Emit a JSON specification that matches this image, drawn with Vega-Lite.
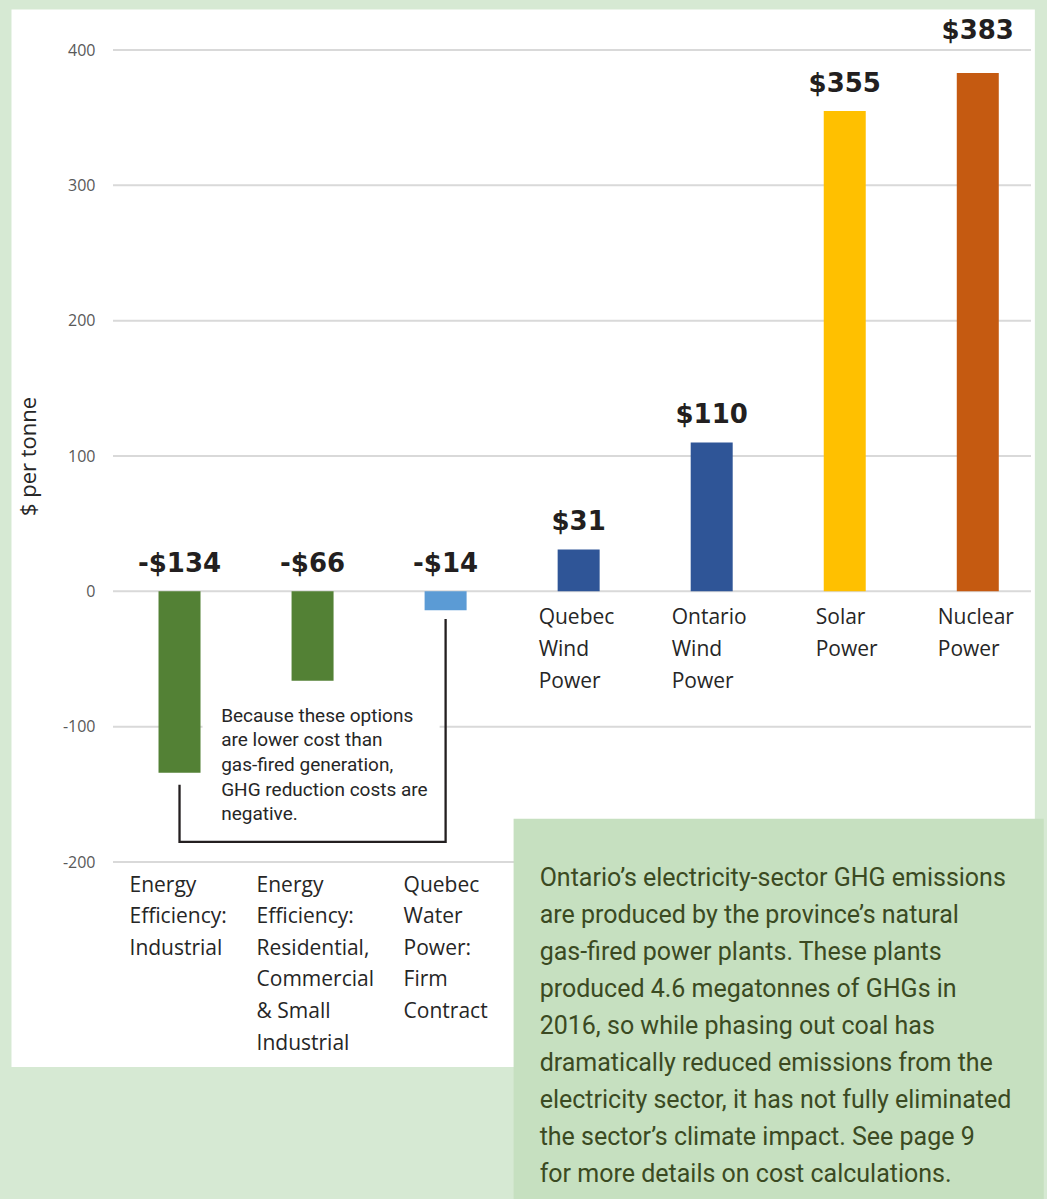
{
  "$schema": "https://vega.github.io/schema/vega-lite/v6.json",
  "autosize": {"type": "none"},
  "width": 918,
  "height": 812,
  "padding": {"left": 113, "top": 50, "right": 16, "bottom": 337},
  "background": "#d6e9d3",
  "config": {"view": {"stroke": null}, "scale": {"continuousPadding": 0}},
  "datasets": {
    "bars": [
      {"i": 0, "v": -134, "name": "Energy Efficiency: Industrial", "lab": "-$134"},
      {"i": 1, "v": -66, "name": "Energy Efficiency: Residential, Commercial & Small Industrial", "lab": "-$66"},
      {"i": 2, "v": -14, "name": "Quebec Water Power: Firm Contract", "lab": "-$14"},
      {"i": 3, "v": 31, "name": "Quebec Wind Power", "lab": "$31"},
      {"i": 4, "v": 110, "name": "Ontario Wind Power", "lab": "$110"},
      {"i": 5, "v": 355, "name": "Solar Power", "lab": "$355"},
      {"i": 6, "v": 383, "name": "Nuclear Power", "lab": "$383"}
    ],
    "cats": [
      {"i": 0, "v": -200, "t": "Energy\nEfficiency:\nIndustrial"},
      {"i": 1, "v": -200, "t": "Energy\nEfficiency:\nResidential,\nCommercial\n& Small\nIndustrial"},
      {"i": 2, "v": -200, "t": "Quebec\nWater\nPower:\nFirm\nContract"},
      {"i": 3, "v": 0, "t": "Quebec\nWind\nPower"},
      {"i": 4, "v": 0, "t": "Ontario\nWind\nPower"},
      {"i": 5, "v": 0, "t": "Solar\nPower"},
      {"i": 6, "v": 0, "t": "Nuclear\nPower"}
    ],
    "grid": [{"v": -200}, {"v": -100}, {"v": 0}, {"v": 100}, {"v": 200}, {"v": 300}, {"v": 400}],
    "panel": [{"i": -1.263, "i2": 6.429, "v": 430, "v2": -351.4}],
    "notebg": [{"i": 0.173, "i2": 1.955, "v": -80, "v2": -176}],
    "box": [{"i": 2.511, "i2": 6.496, "v": -168, "v2": -460}],
    "bracket": [
      {"i": 0, "v": -143, "o": 1},
      {"i": 0, "v": -185.2, "o": 2},
      {"i": 2, "v": -185.2, "o": 3},
      {"i": 2, "v": -20.5, "o": 4}
    ],
    "note": [{"i": 0.313, "v": -96.3, "t": "Because these options\nare lower cost than\ngas-fired generation,\nGHG reduction costs are\nnegative."}],
    "boxtext": [{"i": 2.707, "v": -217.5, "t": "Ontario’s electricity-sector GHG emissions\nare produced by the province’s natural\ngas-fired power plants. These plants\nproduced 4.6 megatonnes of GHGs in\n2016, so while phasing out coal has\ndramatically reduced emissions from the\nelectricity sector, it has not fully eliminated\nthe sector’s climate impact. See page 9\nfor more details on cost calculations."}]
  },
  "layer": [
    {"data": {"name": "panel"}, "mark": {"type": "rect", "fill": "white"},
      "encoding": {
        "x": {"field": "i", "type": "quantitative", "scale": {"domain": [-0.5, 6.4], "nice": false, "zero": false, "padding": 0}, "axis": null},
        "x2": {"field": "i2"},
        "y": {"field": "v", "type": "quantitative", "scale": {"domain": [-200, 400], "nice": false, "zero": false, "padding": 0},
          "axis": {"values": [-200, -100, 0, 100, 200, 300, 400], "grid": false, "domain": false, "ticks": false,
            "labelPadding": 18, "labelFont": "Open Sans", "labelFontSize": 16, "labelColor": "#595959",
            "labelExpr": "'' + datum.value",
            "title": "$ per tonne", "titleFont": "Open Sans", "titleFontSize": 22, "titleFontWeight": "normal",
            "titleColor": "#262626", "titlePadding": 22, "zindex": 1}},
        "y2": {"field": "v2"}}},
    {"data": {"name": "grid"}, "mark": {"type": "rule", "color": "#d9d9d9", "strokeWidth": 2},
      "encoding": {"y": {"field": "v", "type": "quantitative"}}},
    {"data": {"name": "notebg"}, "mark": {"type": "rect", "fill": "white"},
      "encoding": {"x": {"field": "i", "type": "quantitative"}, "x2": {"field": "i2"}, "y": {"field": "v", "type": "quantitative"}, "y2": {"field": "v2"}}},
    {"data": {"name": "bracket"}, "mark": {"type": "line", "color": "#231f20", "strokeWidth": 2.3, "strokeJoin": "miter", "strokeCap": "butt"},
      "encoding": {"x": {"field": "i", "type": "quantitative"}, "y": {"field": "v", "type": "quantitative"}, "order": {"field": "o", "type": "quantitative"}}},
    {"data": {"name": "bars"}, "mark": {"type": "bar", "size": 42},
      "encoding": {"x": {"field": "i", "type": "quantitative"}, "y": {"field": "v", "type": "quantitative"}, "y2": {"datum": 0},
        "color": {"field": "name", "type": "nominal", "legend": null,
          "scale": {"domain": ["Energy Efficiency: Industrial", "Energy Efficiency: Residential, Commercial & Small Industrial", "Quebec Water Power: Firm Contract", "Quebec Wind Power", "Ontario Wind Power", "Solar Power", "Nuclear Power"],
            "range": ["#538135", "#538135", "#5b9bd5", "#2f5597", "#2f5597", "#ffc000", "#c55a11"]}}}},
    {"data": {"name": "bars"}, "transform": [{"filter": "datum.v > 0 && datum.v < 380"}],
      "mark": {"type": "text", "font": "DejaVu Sans", "fontWeight": "bold", "fontSize": 26, "color": "#231f20", "align": "center", "baseline": "alphabetic", "dy": -19},
      "encoding": {"x": {"field": "i", "type": "quantitative"}, "y": {"field": "v", "type": "quantitative"}, "text": {"field": "lab"}}},
    {"data": {"name": "bars"}, "transform": [{"filter": "datum.v >= 380"}],
      "mark": {"type": "text", "font": "DejaVu Sans", "fontWeight": "bold", "fontSize": 26, "color": "#231f20", "align": "center", "baseline": "alphabetic", "dy": -34},
      "encoding": {"x": {"field": "i", "type": "quantitative"}, "y": {"field": "v", "type": "quantitative"}, "text": {"field": "lab"}}},
    {"data": {"name": "bars"}, "transform": [{"filter": "datum.v < 0"}],
      "mark": {"type": "text", "font": "DejaVu Sans", "fontWeight": "bold", "fontSize": 26, "color": "#231f20", "align": "center", "baseline": "alphabetic", "dy": -19},
      "encoding": {"x": {"field": "i", "type": "quantitative"}, "y": {"datum": 0}, "text": {"field": "lab"}}},
    {"data": {"name": "cats"}, "transform": [{"filter": "datum.i == 0"}],
      "mark": {"type": "text", "font": "Open Sans", "fontSize": 21, "lineHeight": 31.6, "lineBreak": "\n", "color": "#262626", "align": "left", "baseline": "alphabetic", "dx": -50, "dy": 29.5},
      "encoding": {"x": {"field": "i", "type": "quantitative"}, "y": {"field": "v", "type": "quantitative"}, "text": {"field": "t"}}},
    {"data": {"name": "cats"}, "transform": [{"filter": "datum.i == 1"}],
      "mark": {"type": "text", "font": "Open Sans", "fontSize": 21, "lineHeight": 31.6, "lineBreak": "\n", "color": "#262626", "align": "left", "baseline": "alphabetic", "dx": -56, "dy": 29.5},
      "encoding": {"x": {"field": "i", "type": "quantitative"}, "y": {"field": "v", "type": "quantitative"}, "text": {"field": "t"}}},
    {"data": {"name": "cats"}, "transform": [{"filter": "datum.i == 2"}],
      "mark": {"type": "text", "font": "Open Sans", "fontSize": 21, "lineHeight": 31.6, "lineBreak": "\n", "color": "#262626", "align": "left", "baseline": "alphabetic", "dx": -42, "dy": 29.5},
      "encoding": {"x": {"field": "i", "type": "quantitative"}, "y": {"field": "v", "type": "quantitative"}, "text": {"field": "t"}}},
    {"data": {"name": "cats"}, "transform": [{"filter": "datum.i == 3 || datum.i == 4 || datum.i == 6"}],
      "mark": {"type": "text", "font": "Open Sans", "fontSize": 21, "lineHeight": 31.6, "lineBreak": "\n", "color": "#262626", "align": "left", "baseline": "alphabetic", "dx": -40, "dy": 33},
      "encoding": {"x": {"field": "i", "type": "quantitative"}, "y": {"field": "v", "type": "quantitative"}, "text": {"field": "t"}}},
    {"data": {"name": "cats"}, "transform": [{"filter": "datum.i == 5"}],
      "mark": {"type": "text", "font": "Open Sans", "fontSize": 21, "lineHeight": 31.6, "lineBreak": "\n", "color": "#262626", "align": "left", "baseline": "alphabetic", "dx": -29, "dy": 33},
      "encoding": {"x": {"field": "i", "type": "quantitative"}, "y": {"field": "v", "type": "quantitative"}, "text": {"field": "t"}}},
    {"data": {"name": "note"},
      "mark": {"type": "text", "font": "Roboto", "fontSize": 19, "lineHeight": 24.7, "lineBreak": "\n", "color": "#262626", "align": "left", "baseline": "alphabetic"},
      "encoding": {"x": {"field": "i", "type": "quantitative"}, "y": {"field": "v", "type": "quantitative"}, "text": {"field": "t"}}},
    {"data": {"name": "box"}, "mark": {"type": "rect", "fill": "#c6e0c0"},
      "encoding": {"x": {"field": "i", "type": "quantitative"}, "x2": {"field": "i2"}, "y": {"field": "v", "type": "quantitative"}, "y2": {"field": "v2"}}},
    {"data": {"name": "boxtext"},
      "mark": {"type": "text", "font": "Roboto", "fontSize": 25, "lineHeight": 37.1, "lineBreak": "\n", "color": "#3b4a22", "align": "left", "baseline": "alphabetic"},
      "encoding": {"x": {"field": "i", "type": "quantitative"}, "y": {"field": "v", "type": "quantitative"}, "text": {"field": "t"}}}
  ]
}
